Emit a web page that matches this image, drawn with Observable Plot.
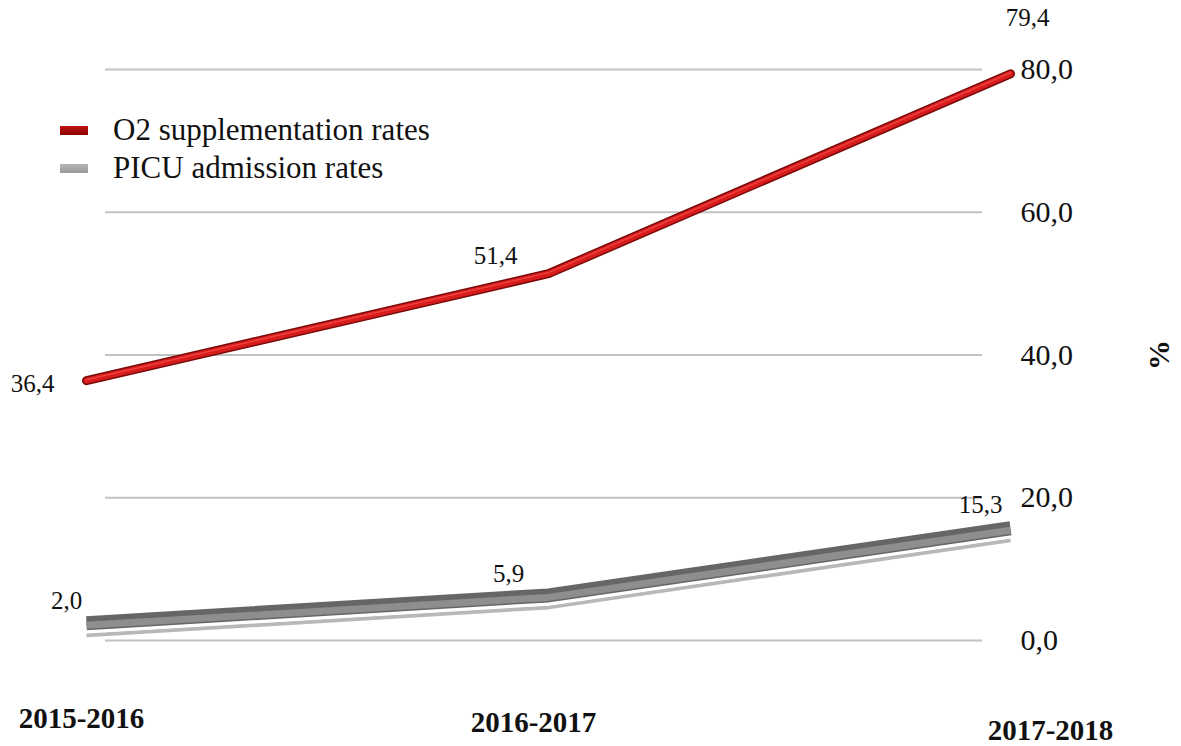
<!DOCTYPE html>
<html>
<head>
<meta charset="utf-8">
<script src="https://cdn.jsdelivr.net/npm/d3@7"></script>
<script src="https://cdn.jsdelivr.net/npm/@observablehq/plot@0.6"></script>
<style>
  html, body { margin: 0; padding: 0; background: #fff; }
  #wrap { position: relative; width: 1181px; height: 746px; font-family: "Liberation Serif", "Times New Roman", serif; }
  .legend { position: absolute; left: 60px; top: 111px; font-size: 31px; line-height: 38px; color: #111; }
  .legend .item { display: flex; align-items: center; }
  .legend .sw { width: 28px; height: 9px; margin-right: 25px; }
  svg g[aria-label="y-axis label"] text { font-weight: bold; }
</style>
</head>
<body>
<div id="wrap"></div>
<script>
const seasons = ["2015-2016", "2016-2017", "2017-2018"];
const o2Rates = [36.4, 51.4, 79.4];
const picuRates = [2.0, 5.9, 15.3];
const yTicks = [0, 20, 40, 60, 80];
const seriesNames = ["O2 supplementation rates", "PICU admission rates"];

const fmt = d => d.toFixed(1).replace(".", ",");
const o2 = seasons.map((s, i) => ({season: s, value: o2Rates[i]}));
const picu = seasons.map((s, i) => ({season: s, value: picuRates[i]}));

// label offsets per point (layout only)
const o2Off = [[-54, 3], [-53, -18], [17, -56]];
const picuOff = [[-20, -25], [-40, -24], [-30, -26]];
// category label offsets (layout only): [dx, tickPadding]
const catOff = [[-5, 67], [-15, 71], [40, 79]];

const font = "Liberation Serif, Times New Roman, serif";

const chart = Plot.plot({
  width: 1181,
  height: 746,
  marginTop: 69,
  marginBottom: 106,
  marginLeft: 105,
  marginRight: 181,
  style: {fontFamily: font, background: "transparent", color: "#111"},
  x: {type: "point", domain: seasons, range: [85, 1010], padding: 0},
  y: {domain: [0, 80]},
  marks: [
    Plot.ruleY(yTicks, {stroke: "#c2c2c2", strokeWidth: 2, insetRight: 18}),
    Plot.axisY({
      anchor: "right", ticks: yTicks, tickFormat: fmt, tickSize: 0, tickPadding: 20,
      fontSize: 30, label: "%", labelAnchor: "center", labelArrow: "none", labelOffset: 168
    }),
    ...seasons.map((s, i) => Plot.axisX({
      anchor: "bottom", ticks: [s], tickSize: 0, tickPadding: catOff[i][1], dx: catOff[i][0],
      fontSize: 29, fontWeight: "bold", label: null
    })),
    // PICU ribbon (grey, pseudo-3D)
    Plot.line(picu, {x: "season", y: "value", stroke: "#b8b8b8", strokeWidth: 4, dy: 9, strokeLinecap: "butt"}),
    Plot.line(picu, {x: "season", y: "value", stroke: "#ffffff", strokeWidth: 2.5, dy: 6, strokeLinecap: "butt"}),
    Plot.line(picu, {x: "season", y: "value", stroke: "#666666", strokeWidth: 14, dy: -3, strokeLinecap: "butt"}),
    Plot.line(picu, {x: "season", y: "value", stroke: "#8e8e8e", strokeWidth: 7, dy: -1, strokeLinecap: "butt"}),
    // O2 tube (red, pseudo-3D)
    Plot.line(o2, {x: "season", y: "value", stroke: "#7a0a0a", strokeWidth: 9}),
    Plot.line(o2, {x: "season", y: "value", stroke: "#d81c1c", strokeWidth: 6}),
    Plot.line(o2, {x: "season", y: "value", stroke: "#ee4040", strokeWidth: 1.5, dy: -1}),
    // data labels
    ...o2.map((d, i) => Plot.text([d], {x: "season", y: "value", text: d => fmt(d.value), fontSize: 25, fill: "#111", dx: o2Off[i][0], dy: o2Off[i][1]})),
    ...picu.map((d, i) => Plot.text([d], {x: "season", y: "value", text: d => fmt(d.value), fontSize: 25, fill: "#111", dx: picuOff[i][0], dy: picuOff[i][1]}))
  ]
});

const wrap = document.getElementById("wrap");
wrap.appendChild(chart);

const legend = document.createElement("div");
legend.className = "legend";
const swatches = ["linear-gradient(#c01010, #8a0000)", "linear-gradient(#b5b5b5, #9a9a9a)"];
seriesNames.forEach((name, i) => {
  const item = document.createElement("div");
  item.className = "item";
  const sw = document.createElement("span");
  sw.className = "sw";
  sw.style.background = swatches[i];
  const t = document.createElement("span");
  t.textContent = name;
  item.appendChild(sw);
  item.appendChild(t);
  legend.appendChild(item);
});
wrap.appendChild(legend);
</script>
</body>
</html>
